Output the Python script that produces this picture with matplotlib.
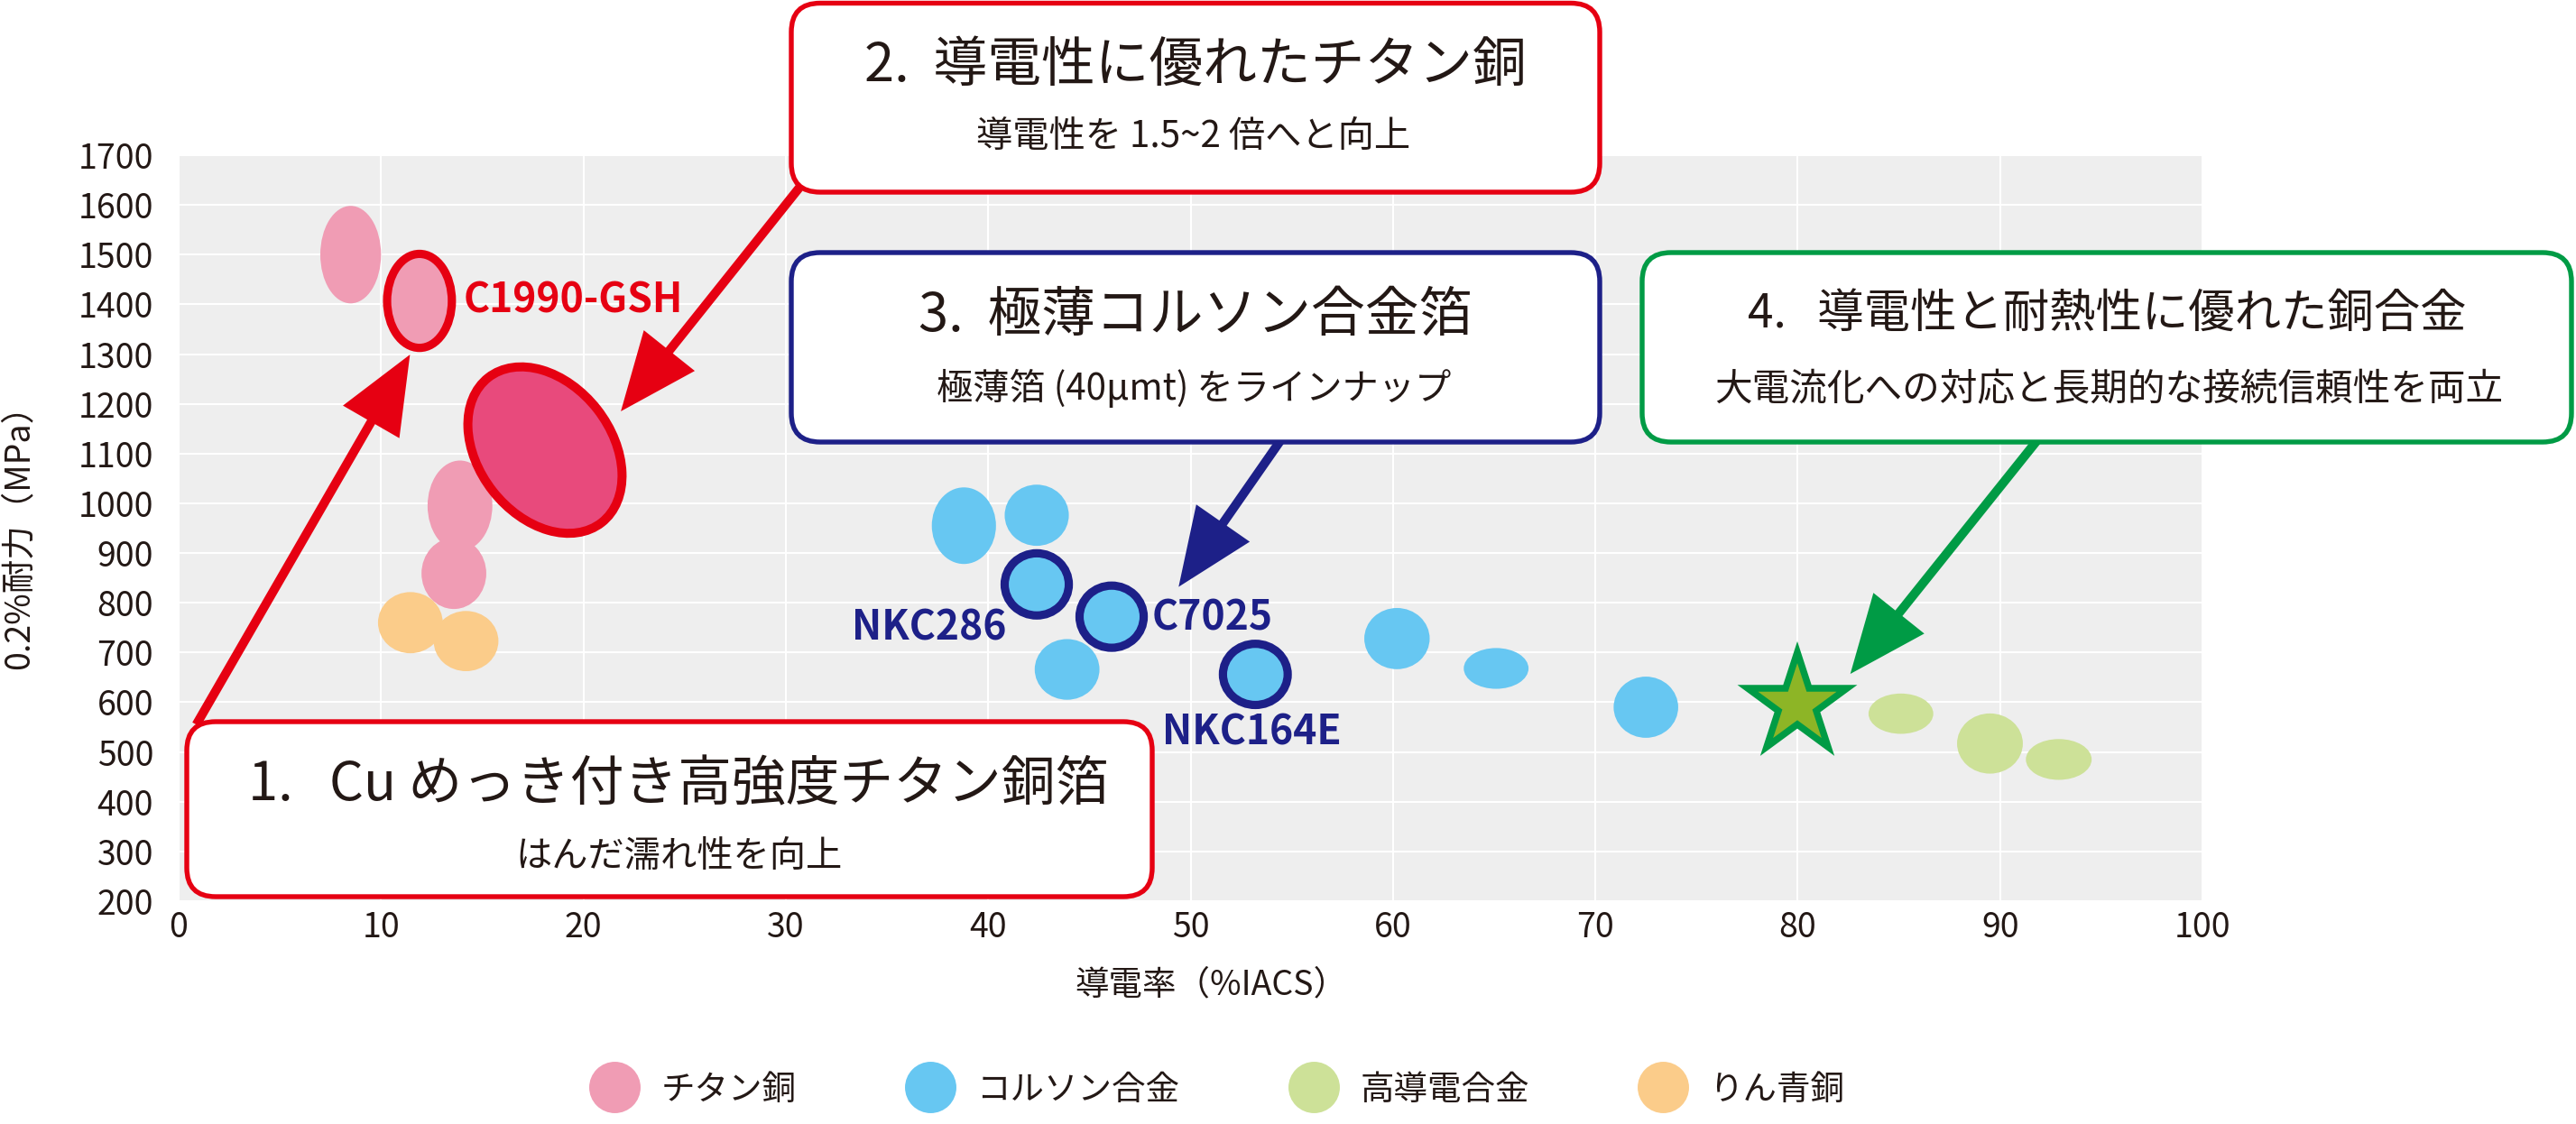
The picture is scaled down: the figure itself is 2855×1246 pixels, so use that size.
import matplotlib
matplotlib.use('Agg')
import matplotlib.pyplot as plt
import matplotlib.transforms as mtransforms
from matplotlib.patches import Ellipse, FancyBboxPatch
from matplotlib.lines import Line2D
from matplotlib.markers import MarkerStyle

plt.rcParams['font.family'] = ['Noto Sans CJK JP', 'DejaVu Sans']

# ---------------- data ----------------
categories = ['チタン銅', 'コルソン合金', '高導電合金', 'りん青銅']

# チタン銅 (titanium copper): conductivity %IACS, 0.2% proof stress MPa, spreads
ti_cond = [8.5, 11.9, 13.9, 13.6]
ti_ys = [1500, 1407, 995, 859]
ti_cond_rng = [3.0, 3.2, 3.2, 3.2]
ti_ys_rng = [196, 189, 182, 143]

# コルソン合金 (Corson alloys)
co_cond = [38.8, 42.4, 42.4, 46.1, 43.9, 53.2, 60.2, 65.1, 72.5]
co_ys = [955, 976, 837, 772, 666, 656, 728, 668, 590]
co_cond_rng = [3.17, 3.17, 3.17, 3.17, 3.2, 3.2, 3.23, 3.2, 3.19]
co_ys_rng = [154, 123, 125, 125, 122, 123, 123, 82, 123]

# 高導電合金 (high-conductivity alloys)
hc_cond = [85.1, 89.5, 92.9]
hc_ys = [577, 517, 485]
hc_cond_rng = [3.2, 3.25, 3.25]
hc_ys_rng = [81, 121, 82]

# りん青銅 (phosphor bronze)
pb_cond = [11.45, 14.2]
pb_ys = [760, 723]
pb_cond_rng = [3.2, 3.2]
pb_ys_rng = [123, 121]

# highlighted products
hl_names = ['C1990-GSH', 'NKC286', 'C7025', 'NKC164E']
hl_series = [0, 1, 1, 1]
hl_index = [1, 2, 3, 5]

# new products
new_ti_cond, new_ti_ys = 18.1, 1107     # 導電性に優れたチタン銅
new_hc_cond, new_hc_ys = 80.0, 596      # 導電性と耐熱性に優れた銅合金

box_titles = ['1.   Cu めっき付き高強度チタン銅箔', '2.  導電性に優れたチタン銅',
              '3.  極薄コルソン合金箔', '4.   導電性と耐熱性に優れた銅合金']
box_subtitles = ['はんだ濡れ性を向上', '導電性を 1.5~2 倍へと向上',
                 '極薄箔 (40µmt) をラインナップ', '大電流化への対応と長期的な接続信頼性を両立']

x_ticks = list(range(0, 101, 10))
y_ticks = list(range(200, 1701, 100))

# ---------------- style ----------------
W, H, DPI = 2855, 1246, 100
TXT = '#231815'
RED = '#e60012'
NAVY = '#1d2088'
GREEN = '#009b45'
series_colors = ['#f09cb4', '#67c7f2', '#cde198', '#fbcc8a']

fig = plt.figure(figsize=(W / DPI, H / DPI), dpi=DPI)
fig.patch.set_facecolor('white')
ax = fig.add_axes([198 / W, 1 - 999 / H, (2441 - 198) / W, (999 - 172) / H])
ax.set_facecolor('#eeeeee')
ax.set_xlim(0, 100)
ax.set_ylim(200, 1700)
ax.set_xticks(x_ticks)
ax.set_yticks(y_ticks)
ax.grid(True, color='white', lw=1.5)
ax.set_axisbelow(True)
for s in ax.spines.values():
    s.set_visible(False)
ax.tick_params(axis='both', length=0, labelsize=27, colors=TXT)
ax.tick_params(axis='x', pad=7)
ax.tick_params(axis='y', pad=20)

ax.set_xlabel('導電率（%IACS）', fontsize=27, color=TXT)
ax.xaxis.label.set_va('baseline')
ax.xaxis.set_label_coords((1342 - 198) / 2243, (999 - 1102) / 827)
ax.set_ylabel('0.2%耐力（MPa）', fontsize=27, color=TXT)
ax.yaxis.label.set_va('center')
ax.yaxis.set_label_coords((21 - 198) / 2243, 0.5)

series = [
    (ti_cond, ti_ys, ti_cond_rng, ti_ys_rng),
    (co_cond, co_ys, co_cond_rng, co_ys_rng),
    (hc_cond, hc_ys, hc_cond_rng, hc_ys_rng),
    (pb_cond, pb_ys, pb_cond_rng, pb_ys_rng),
]
hl_colors = [RED, NAVY, NAVY, NAVY]
hl_offsets = [(49, -13, 'left', RED), (-34, -62, 'right', NAVY),
              (45, -15, 'left', NAVY), (-4, -78, 'center', NAVY)]

for si, (xs, ys, dxs, dys) in enumerate(series):
    for i, (x, y, dx, dy) in enumerate(zip(xs, ys, dxs, dys)):
        ec, lw = 'none', 0
        for k, (hs, hi) in enumerate(zip(hl_series, hl_index)):
            if hs == si and hi == i:
                ec, lw = hl_colors[k], 6.6
        ax.add_patch(Ellipse((x, y), dx, dy, facecolor=series_colors[si],
                             edgecolor=ec, lw=lw, zorder=3))

for k, (name, hs, hi) in enumerate(zip(hl_names, hl_series, hl_index)):
    xs, ys = series[hs][0], series[hs][1]
    ox, oy, ha, col = hl_offsets[k]
    ax.annotate(name, xy=(xs[hi], ys[hi]), xytext=(ox, oy), textcoords='offset pixels',
                ha=ha, va='baseline', fontsize=32, fontweight='bold', color=col,
                zorder=6, annotation_clip=False)

# new titanium copper (rotated ellipse, size in pixels)
big_tr = fig.dpi_scale_trans + mtransforms.ScaledTranslation(new_ti_cond, new_ti_ys, ax.transData)
ax.add_patch(Ellipse((0, 0), 2.04, 1.47, angle=-52, transform=big_tr,
                     facecolor='#e84a7c', edgecolor=RED, lw=7.2, zorder=3))

# new high-conductivity alloy (star)
ax.plot([new_hc_cond], [new_hc_ys], ls='none',
        marker=MarkerStyle('*', joinstyle='miter'), ms=83,
        mfc='#8db526', mec=GREEN, mew=5.4, zorder=4)

# ---------------- callouts ----------------
pixT = mtransforms.Affine2D().scale(1 / W, 1 / H) + fig.transFigure

arrow_starts = [(0.87, 555), (30.95, 1649), (54.63, 1137), (92.08, 1139)]
arrow_tips = [(11.43, 1299), (21.85, 1185), (49.41, 832), (82.6, 657)]
box_colors = [RED, RED, NAVY, GREEN]
for (sx, sy), (tx, ty), col in zip(arrow_starts, arrow_tips, box_colors):
    ax.annotate('', xy=(tx, ty), xytext=(sx, sy), xycoords='data', textcoords='data',
                arrowprops=dict(arrowstyle='simple,head_length=0.62,head_width=0.52,tail_width=0.072',
                                mutation_scale=100, fc=col, ec='none', lw=0,
                                shrinkA=0, shrinkB=0),
                zorder=4, annotation_clip=False)

boxes = [(207, 800, 1277, 994), (877, 3.5, 1773, 213),
         (877, 280, 1773, 490), (1820, 280, 2850, 490)]
title_pos = [(752, 887), (1325, 90), (1325, 367), (2335, 363)]
sub_pos = [(752, 961), (1323, 163), (1323, 443), (2337, 444)]
title_sizes = [43, 43, 43, 37]
sub_sizes = [29, 29, 29, 30]

for (x0, y0, x1, y1), col in zip(boxes, box_colors):
    ax.add_patch(FancyBboxPatch((x0, H - y1), x1 - x0, y1 - y0,
                                boxstyle='round,pad=0,rounding_size=32',
                                transform=pixT, fc='white', ec=col, lw=3.9,
                                zorder=5, clip_on=False))
for t, (x, y), fs in zip(box_titles, title_pos, title_sizes):
    ax.text(x, H - y, t, transform=pixT, ha='center', va='baseline', fontsize=fs,
            color=TXT, zorder=7, clip_on=False)
for t, (x, y), fs in zip(box_subtitles, sub_pos, sub_sizes):
    ax.text(x, H - y, t, transform=pixT, ha='center', va='baseline', fontsize=fs,
            color=TXT, zorder=7, clip_on=False)

# ---------------- legend ----------------
handles = [Line2D([], [], ls='none', marker='o', ms=41, mfc=c, mec='none')
           for c in series_colors]
fig.legend(handles, categories, loc='center', bbox_to_anchor=(1348.5 / W, 1 - 1208 / H),
           ncol=4, frameon=False, fontsize=27, handlelength=1.52, handletextpad=0.61,
           columnspacing=3.2, labelcolor=TXT)

fig.savefig('out.png', dpi=DPI, facecolor='white')
